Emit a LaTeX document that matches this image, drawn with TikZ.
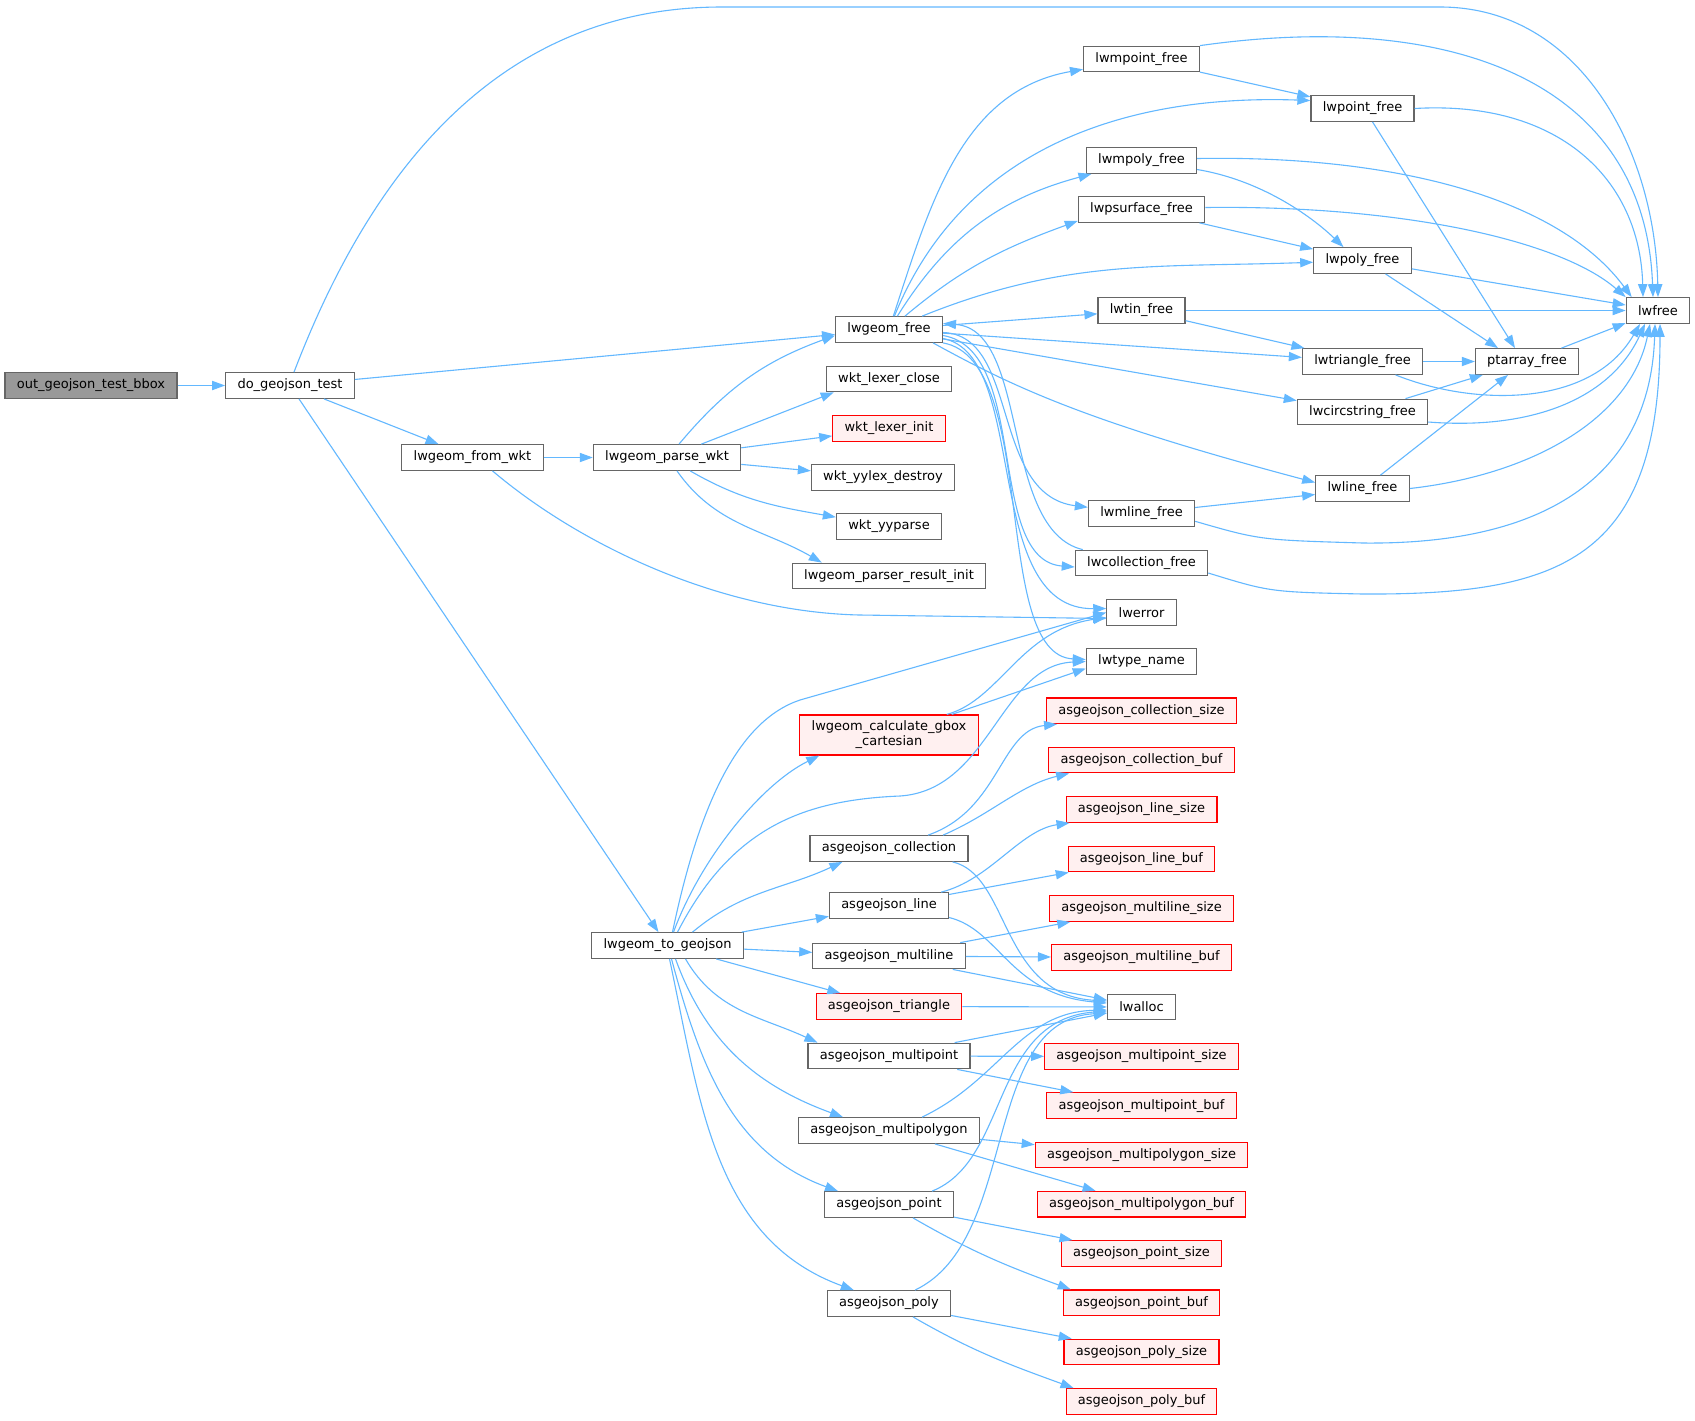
\documentclass[tikz,border=0pt]{standalone}
\usepackage{fontspec}
\setmainfont{DejaVu Sans}
\usepackage{tikz}
\usetikzlibrary{arrows.meta,calc}
\definecolor{doxline}{HTML}{63B8FF}
\definecolor{doxgris}{HTML}{666666}
\definecolor{doxrojo}{HTML}{FF0000}
\definecolor{doxrosa}{HTML}{FFF0F0}
\definecolor{doxraiz}{HTML}{999999}

\begin{document}
\begin{tikzpicture}[x=0.5pt, y=-0.5pt, font=\fontsize{6.5}{7.5}\selectfont,
  fn/.style={draw=doxgris, line width=0.6pt, fill=white, inner xsep=5.9pt, inner ysep=0pt, minimum height=12.8pt},
  fnred/.style={fn, draw=doxrojo, fill=doxrosa},
  call/.style={-{Triangle[length=6.5pt, width=4.6pt]}, doxline, line width=0.55pt}]
  \fill[white] (0,0) rectangle (1695,1420);

  % caller side
  \node[fn, fill=doxraiz] (testbbox) at (91,385.5) {out\_geojson\_test\_bbox};
  \node[fn] (dotest) at (290,385.5) {do\_geojson\_test};
  \node[fn] (fromwkt) at (472.5,457.5) {lwgeom\_from\_wkt};
  \node[fn] (parsewkt) at (667,457.5) {lwgeom\_parse\_wkt};
  \node[fn] (togeojson) at (667.5,945.5) {lwgeom\_to\_geojson};

  % middle column
  \node[fn] (geomfree) at (889,329.5) {lwgeom\_free};
  \node[fn] (lexclose) at (889,379) {wkt\_lexer\_close};
  \node[fnred] (lexinit) at (889,428.5) {wkt\_lexer\_init};
  \node[fn] (yylexdestroy) at (883,477.5) {wkt\_yylex\_destroy};
  \node[fn] (yyparse) at (889,526.5) {wkt\_yyparse};
  \node[fn] (resultinit) at (889,576) {lwgeom\_parser\_result\_init};
  \node[fnred, align=center, minimum height=20pt] (gbox) at (889,735) {lwgeom\_calculate\_gbox\\\_cartesian};
  \node[fn] (asgcollection) at (889,848.5) {asgeojson\_collection};
  \node[fn] (asgline) at (889,905.5) {asgeojson\_line};
  \node[fn] (asgmultiline) at (889,956) {asgeojson\_multiline};
  \node[fnred] (asgtriangle) at (889,1006.5) {asgeojson\_triangle};
  \node[fn] (asgmultipoint) at (889,1056) {asgeojson\_multipoint};
  \node[fn] (asgmultipolygon) at (889,1130.5) {asgeojson\_multipolygon};
  \node[fn] (asgpoint) at (889,1204.5) {asgeojson\_point};
  \node[fn] (asgpoly) at (889,1303.5) {asgeojson\_poly};

  % callee column
  \node[fn] (lwmpointfree) at (1141.5,59) {lwmpoint\_free};
  \node[fn] (lwmpolyfree) at (1141.5,160.5) {lwmpoly\_free};
  \node[fn] (lwpsurfacefree) at (1141.5,209.5) {lwpsurface\_free};
  \node[fn] (lwtinfree) at (1141.5,310.5) {lwtin\_free};
  \node[fn] (lwmlinefree) at (1141.5,513.3) {lwmline\_free};
  \node[fn] (lwcollectionfree) at (1141.5,563) {lwcollection\_free};
  \node[fn] (lwerror) at (1141.5,612.5) {lwerror};
  \node[fn] (lwtypename) at (1141.5,661.5) {lwtype\_name};
  \node[fnred] (collsize) at (1141.5,710.8) {asgeojson\_collection\_size};
  \node[fnred] (collbuf) at (1141.5,760) {asgeojson\_collection\_buf};
  \node[fnred] (linesize) at (1141.5,809.5) {asgeojson\_line\_size};
  \node[fnred] (linebuf) at (1141.5,859) {asgeojson\_line\_buf};
  \node[fnred] (mlinesize) at (1141.5,908.5) {asgeojson\_multiline\_size};
  \node[fnred] (mlinebuf) at (1141.5,957.5) {asgeojson\_multiline\_buf};
  \node[fn] (lwalloc) at (1141.5,1007) {lwalloc};
  \node[fnred] (mpointsize) at (1141.5,1056.5) {asgeojson\_multipoint\_size};
  \node[fnred] (mpointbuf) at (1141.5,1105.6) {asgeojson\_multipoint\_buf};
  \node[fnred] (mpolysize) at (1141.5,1155) {asgeojson\_multipolygon\_size};
  \node[fnred] (mpolybuf) at (1141.5,1204.2) {asgeojson\_multipolygon\_buf};
  \node[fnred] (pointsize) at (1141.5,1253.5) {asgeojson\_point\_size};
  \node[fnred] (pointbuf) at (1141.5,1302.8) {asgeojson\_point\_buf};
  \node[fnred] (polysize) at (1141.5,1352) {asgeojson\_poly\_size};
  \node[fnred] (polybuf) at (1141.5,1401.4) {asgeojson\_poly\_buf};

  % right side
  \node[fn] (lwpointfree) at (1362.5,108.5) {lwpoint\_free};
  \node[fn] (lwpolyfree) at (1362.5,260.5) {lwpoly\_free};
  \node[fn] (lwtrianglefree) at (1362.5,361.5) {lwtriangle\_free};
  \node[fn] (lwcircstringfree) at (1362.5,412) {lwcircstring\_free};
  \node[fn] (lwlinefree) at (1362.5,488.5) {lwline\_free};
  \node[fn] (ptarray) at (1527,361.5) {ptarray\_free};
  \node[fn] (lwfree) at (1658,310.5) {lwfree};

  % calls of the test functions
  \draw[call] (testbbox) -- (dotest);
  \draw[call] ($(dotest.north)+(4,0)$) .. controls (360,200) and (480,8) .. (720,7) -- (1440,7) .. controls (1580,7) and (1655,150) .. (lwfree.north);
  \draw[call] (dotest) -- (geomfree);
  \draw[call] (dotest) -- (fromwkt);
  \draw[call] (dotest) -- (togeojson);
  \draw[call] (fromwkt) -- (parsewkt);
  \draw[call] ($(fromwkt.south)+(20,0)$) .. controls (580,545) and (720,612) .. (860,615) -- ($(lwerror.west)+(0,6)$);
  \draw[call] ($(parsewkt.north)+(12,0)$) to[out=50, in=200] ($(geomfree.west)+(0,6)$);
  \draw[call] (parsewkt) -- ($(lexclose.south west)+(8,0)$);
  \draw[call] (parsewkt) -- (lexinit);
  \draw[call] (parsewkt) -- (yylexdestroy);
  \draw[call] (parsewkt) to[out=-30, in=170] (yyparse);
  \draw[call] ($(parsewkt.south)+(10,0)$) to[out=-55, in=150] ($(resultinit.north west)+(30,0)$);

  % lwgeom_free
  \draw[call] (geomfree) to[out=72, in=190] (lwmpointfree);
  \draw[call] (geomfree) to[out=68, in=178] ($(lwpointfree.west)+(0,-8)$);
  \draw[call] (geomfree) to[out=58, in=195] (lwmpolyfree);
  \draw[call] (geomfree) to[out=40, in=200] ($(lwpsurfacefree.south west)+(0,-2)$);
  \draw[call] (geomfree) to[out=22, in=182] (lwpolyfree);
  \draw[call] (geomfree) -- (lwtinfree);
  \draw[call] (geomfree) -- (lwtrianglefree);
  \draw[call] (geomfree) -- (lwcircstringfree);
  \draw[call] ($(geomfree.south east)+(-10,0)$) .. controls (1010,385) and (1080,420) .. ($(lwlinefree.west)+(0,-6)$);
  \draw[call] ($(geomfree.east)+(0,3)$) .. controls (1020,335) and (990,495) .. ($(lwmlinefree.west)+(0,-6)$);
  \draw[call] ($(geomfree.east)+(0,6)$) .. controls (1030,350) and (985,560) .. ($(lwcollectionfree.west)+(0,4)$);
  \draw[call] ($(lwcollectionfree.north west)+(8,0)$) .. controls (1000,530) and (1030,330) .. ($(geomfree.east)+(0,-6)$);
  \draw[call] ($(geomfree.east)+(0,9)$) .. controls (1030,355) and (980,610) .. ($(lwerror.west)+(0,-4)$);
  \draw[call] (geomfree.south east) .. controls (1040,360) and (990,655) .. ($(lwtypename.west)+(0,-2)$);

  % freeing sub geometries
  \draw[call] (lwmpointfree.north east) .. controls (1450,10) and (1645,80) .. ($(lwfree.north)+(-5,0)$);
  \draw[call] (lwmpointfree) -- (lwpointfree);
  \draw[call] (lwpointfree.east) .. controls (1560,100) and (1640,180) .. ($(lwfree.north)+(-15,0)$);
  \draw[call] ($(lwpointfree.south)+(10,0)$) -- ($(ptarray.north)+(-12,0)$);
  \draw[call] ($(lwmpolyfree.east)+(0,-2)$) .. controls (1400,155) and (1560,200) .. ($(lwfree.north west)+(6,0)$);
  \draw[call] ($(lwmpolyfree.east)+(0,9)$) .. controls (1260,180) and (1310,215) .. ($(lwpolyfree.north)+(-19,0)$);
  \draw[call] ($(lwpsurfacefree.east)+(0,-2)$) .. controls (1400,205) and (1560,240) .. (lwfree.north west);
  \draw[call] (lwpsurfacefree) -- (lwpolyfree);
  \draw[call] (lwpolyfree) -- (lwfree);
  \draw[call] ($(lwpolyfree.south)+(23,0)$) -- ($(ptarray.north)+(-29,0)$);
  \draw[call] (lwtinfree) -- (lwfree);
  \draw[call] (lwtinfree) -- (lwtrianglefree);
  \draw[call] (lwtrianglefree) -- (ptarray);
  \draw[call] ($(lwtrianglefree.south)+(33,0)$) .. controls (1470,405) and (1590,410) .. ($(lwfree.south)+(-18,0)$);
  \draw[call] ($(lwcircstringfree.north)+(43,0)$) -- ($(ptarray.south west)+(8,0)$);
  \draw[call] ($(lwcircstringfree.east)+(0,10)$) .. controls (1530,430) and (1610,400) .. ($(lwfree.south)+(-13,0)$);
  \draw[call] ($(lwlinefree.north)+(18,0)$) -- ($(ptarray.south)+(-19,0)$);
  \draw[call] (lwlinefree.east) .. controls (1530,475) and (1630,420) .. ($(lwfree.south)+(-8,0)$);
  \draw[call] (lwmlinefree) -- ($(lwlinefree.west)+(0,6)$);
  \draw[call] ($(lwmlinefree.east)+(0,8)$) .. controls (1260,540) .. (1363,543) .. controls (1540,545) and (1650,480) .. ($(lwfree.south)+(-3,0)$);
  \draw[call] ($(lwcollectionfree.east)+(0,10)$) .. controls (1270,592) .. (1363,594) .. controls (1560,595) and (1660,560) .. ($(lwfree.south)+(2,0)$);
  \draw[call] (ptarray) -- (lwfree);

  % lwgeom_to_geojson
  \draw[call] ($(togeojson.north)+(5,0)$) .. controls (700,800) and (740,720) .. (800,700) -- (lwerror.west);
  \draw[call] ($(togeojson.north)+(6,0)$) .. controls (700,860) and (760,785) .. ($(gbox.south west)+(20,0)$);
  \draw[call] ($(togeojson.north)+(10,0)$) .. controls (730,830) and (800,800) .. (900,796) .. controls (990,790) and (1000,665) .. (lwtypename.west);
  \draw[call] ($(togeojson.north)+(25,0)$) to[out=40, in=205] ($(asgcollection.south west)+(33,0)$);
  \draw[call] (togeojson) -- (asgline);
  \draw[call] (togeojson) -- (asgmultiline);
  \draw[call] (togeojson) -- (asgtriangle);
  \draw[call] ($(togeojson.south)+(18,0)$) to[out=-60, in=155] ($(asgmultipoint.north west)+(10,0)$);
  \draw[call] ($(togeojson.south)+(8,0)$) to[out=-70, in=160] ($(asgmultipolygon.north west)+(45,0)$);
  \draw[call] ($(togeojson.south)+(4,0)$) to[out=-75, in=160] ($(asgpoint.north west)+(14,0)$);
  \draw[call] ($(togeojson.south)+(2,0)$) to[out=-78, in=160] ($(asgpoly.north west)+(27,0)$);
  \draw[call] ($(gbox.north east)+(-32,0)$) .. controls (1000,700) and (1020,630) .. ($(lwerror.west)+(0,5)$);
  \draw[call] ($(gbox.north east)+(-27,0)$) -- ($(lwtypename.west)+(0,7)$);

  % asgeojson helpers
  \draw[call] ($(asgcollection.north)+(39,0)$) .. controls (1000,810) and (1000,730) .. ($(collsize.south west)+(11,0)$);
  \draw[call] ($(asgcollection.north)+(54,0)$) .. controls (990,815) and (1020,785) .. ($(collbuf.south west)+(21,0)$);
  \draw[call] ($(asgcollection.south east)+(-16,0)$) .. controls (1010,875) and (1000,995) .. ($(lwalloc.west)+(0,-6)$);
  \draw[call] ($(asgline.north east)+(-8,0)$) .. controls (990,880) and (1020,830) .. ($(linesize.south west)+(4,0)$);
  \draw[call] (asgline) -- (linebuf);
  \draw[call] ($(asgline.east)+(0,12)$) .. controls (1000,930) and (1010,995) .. ($(lwalloc.west)+(0,-4)$);
  \draw[call] (asgmultiline) -- (mlinesize);
  \draw[call] (asgmultiline) -- (mlinebuf);
  \draw[call] ($(asgmultiline.south east)+(-13,0)$) -- ($(lwalloc.west)+(0,-7)$);
  \draw[call] (asgtriangle) -- (lwalloc);
  \draw[call] ($(asgmultipoint.north east)+(-16,0)$) -- ($(lwalloc.west)+(0,6)$);
  \draw[call] (asgmultipoint) -- (mpointsize);
  \draw[call] (asgmultipoint) -- (mpointbuf);
  \draw[call] ($(asgmultipolygon.north)+(33,0)$) .. controls (1000,1080) and (1020,1012) .. ($(lwalloc.west)+(0,3)$);
  \draw[call] (asgmultipolygon) -- (mpolysize);
  \draw[call] (asgmultipolygon) -- (mpolybuf);
  \draw[call] ($(asgpoint.north)+(43,0)$) .. controls (1010,1160) and (990,1020) .. ($(lwalloc.west)+(0,4)$);
  \draw[call] (asgpoint) -- (pointsize);
  \draw[call] ($(asgpoint.south)+(24,0)$) to[out=-30, in=160] ($(pointbuf.north west)+(8,0)$);
  \draw[call] ($(asgpoly.north)+(26,0)$) .. controls (1020,1240) and (980,1020) .. ($(lwalloc.west)+(0,6)$);
  \draw[call] (asgpoly) -- (polysize);
  \draw[call] ($(asgpoly.south)+(24,0)$) to[out=-30, in=160] ($(polybuf.north west)+(8,0)$);
\end{tikzpicture}
\end{document}
